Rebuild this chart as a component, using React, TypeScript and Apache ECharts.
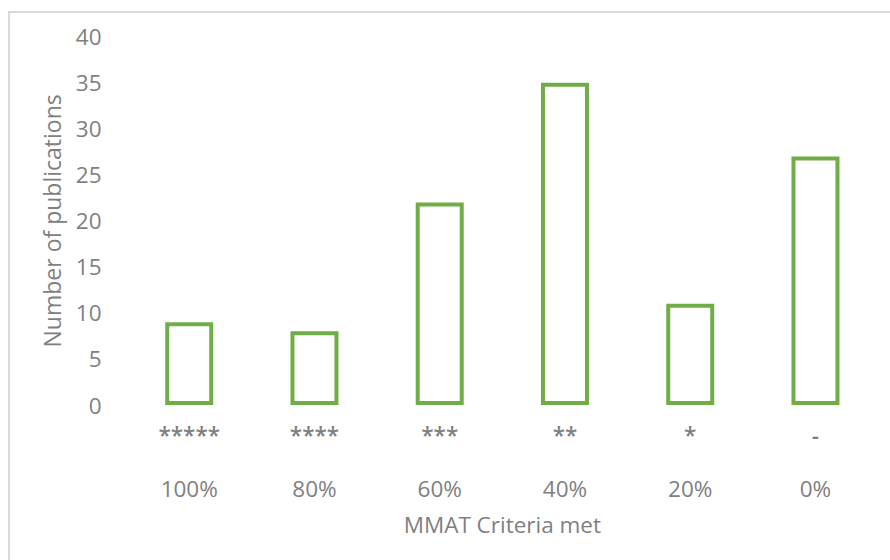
import React, { useEffect, useRef } from "react";
import * as echarts from "echarts";

const stars = ["*****", "****", "***", "**", "*", "-"];
const percents = ["100%", "80%", "60%", "40%", "20%", "0%"];
const publications = [9, 8, 22, 35, 11, 27];
const yTicks = { min: 0, max: 40, interval: 5 };

export default function App() {
  const ref = useRef<HTMLDivElement>(null);
  useEffect(() => {
    if (!ref.current) return;
    const chart = echarts.init(ref.current, null, { renderer: "svg" });
    const gray = "#7f7f7f";
    const font = "'Open Sans', sans-serif";
    chart.setOption({
      animation: false,
      backgroundColor: "#ffffff",
      textStyle: { fontFamily: font },
      graphic: [
        {
          type: "rect",
          shape: { x: 9, y: 12, width: 1000, height: 1000 },
          style: { fill: "none", stroke: "#d9d9d9", lineWidth: 2 },
          silent: true,
        },
      ],
      grid: { left: 126.6, right: 11.9, top: 36.7, bottom: 155 },
      xAxis: {
        type: "category",
        data: percents.map((p, i) => stars[i] + "|" + p),
        axisLine: { show: false },
        axisTick: { show: false },
        axisLabel: {
          interval: 0,
          margin: 5,
          formatter: (v: string) => {
            const [s, p] = v.split("|");
            return "{s|" + s + "}\n{p|" + p + "}";
          },
          rich: {
            s: { fontSize: 22.5, color: gray, lineHeight: 50, fontFamily: font, fontWeight: 600 },
            p: { fontSize: 22.5, color: gray, lineHeight: 56, fontFamily: font },
          },
        },
        name: "MMAT Criteria met",
        nameLocation: "middle",
        nameGap: 108,
        nameTextStyle: { fontSize: 22.5, color: gray, fontFamily: font },
      },
      yAxis: {
        type: "value",
        min: yTicks.min,
        max: yTicks.max,
        interval: yTicks.interval,
        axisLine: { show: false },
        axisTick: { show: false },
        splitLine: { show: false },
        axisLabel: { fontSize: 22.5, color: gray, margin: 25, fontFamily: font },
        name: "Number of publications",
        nameLocation: "middle",
        nameGap: 63,
        nameTextStyle: { fontSize: 23, color: gray, fontFamily: font },
      },
      series: [
        {
          type: "bar",
          data: publications,
          barWidth: 48,
          itemStyle: { color: "#ffffff", borderColor: "#70ad47", borderWidth: 4 },
        },
      ],
    });
    return () => chart.dispose();
  }, []);
  return (
    <div
      ref={ref}
      style={{ position: "fixed", left: 0, top: 0, width: 890, height: 560 }}
    />
  );
}
